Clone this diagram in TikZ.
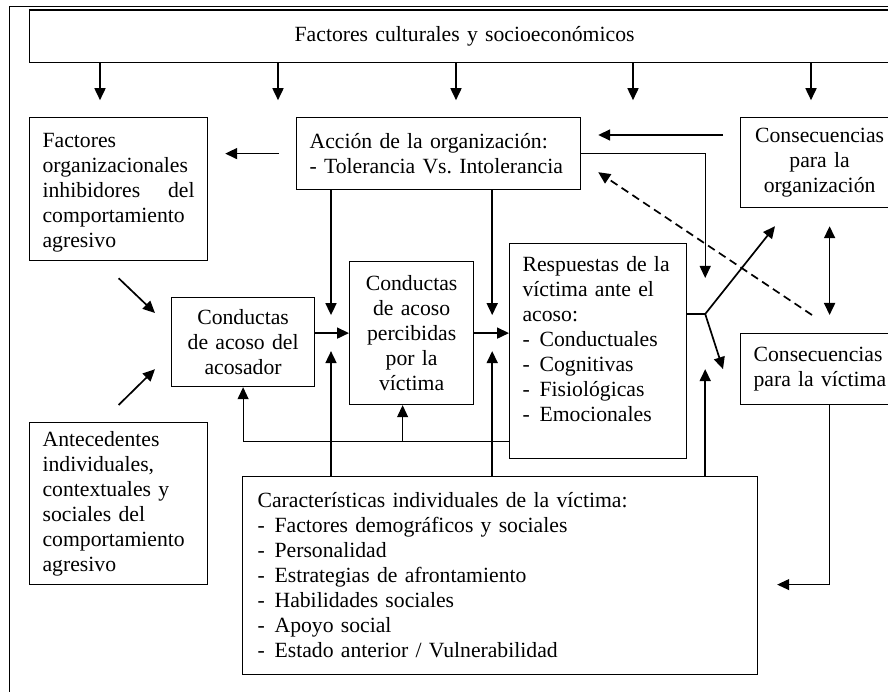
\documentclass[tikz,border=0pt]{standalone}
\usepackage{fontspec}
\setmainfont{Liberation Serif}
\usetikzlibrary{arrows.meta,calc}
\newcommand{\guion}[1]{\makebox[17pt][l]{-}#1}
\hyphenpenalty=10000
\frenchspacing
\begin{document}
\begin{tikzpicture}[x=1pt,y=-1pt,
        box/.style={draw, line width=1.2pt, inner xsep=13pt, inner ysep=0pt, anchor=north west, font=\fontsize{21.7}{25}\selectfont},
        arr/.style={line width=1.7pt, -{Triangle[length=12pt,width=11pt]}},
        thinarr/.style={line width=1.1pt, -{Triangle[length=12pt,width=11pt]}}]
        \useasboundingbox (0,0) rectangle (888,692);
        \clip (0,0) rectangle (888,692);
        \draw[line width=0.8pt, double distance=0.9pt] (10,7) rectangle (920,720);
        \node[box, text width=844, minimum height=52.5, align=center] (cult) at (29,9.5) {Factores culturales y socioecon\'omicos};
        \node[box, text width=152, minimum height=143, align=left] (orgfac) at (29,117) {\rule{0pt}{22pt}Factores\\ organizacionales\\ inhibidores\hfill del\\ comportamiento\\ agresivo};
        \node[box, text width=258, minimum height=72, align=left] (accion) at (296,117) {Acci\'on de la organizaci\'on:\\ - Tolerancia Vs. Intolerancia};
        \node[box, inner xsep=8pt, text width=142, minimum height=90, align=center] (consorg) at (740,117) {Consecuencias\\ para la\\ organizaci\'on};
        \node[box, inner xsep=8pt, text width=127, minimum height=89, align=center] (acosador) at (171,297) {Conductas\\ de acoso del\\ acosador};
        \node[box, inner xsep=7pt, text width=110, minimum height=143, align=center] (percib) at (349,261) {Conductas\\ de acoso\\ percibidas\\ por la\\ v\'ictima};
        \node[box, text width=151, minimum height=215, align=left] (resp) at (509,243) {Respuestas de la\\ v\'ictima ante el\\ acoso:\\ \guion{Conductuales}\\ \guion{Cognitivas}\\ \guion{Fisiol\'ogicas}\\ \guion{Emocionales}\\ \mbox{}};
        \node[box, text width=132, minimum height=71, align=left] (consvic) at (740,333) {Consecuencias\\ para~la~v\'ictima};
        \node[box, text width=152, minimum height=162, align=left] (antec) at (29,422) {Antecedentes\\ individuales,\\ contextuales y\\ sociales del\\ comportamiento\\ agresivo};
        \node[box, inner xsep=15pt, text width=485, minimum height=198, align=left] (caract) at (242,476) {Caracter\'isticas individuales de la v\'ictima:\\ \guion{Factores demogr\'aficos y sociales}\\ \guion{Personalidad}\\ \guion{Estrategias de afrontamiento}\\ \guion{Habilidades sociales}\\ \guion{Apoyo social}\\ \guion{Estado anterior / Vulnerabilidad}};
        \foreach \x in {100,278,456,633,811}{
            \draw[arr] (cult.south -| \x,0) -- ++(0,37);
        }
        \coordinate (pinl) at ($(percib.west)+(-18,-18)$);
        \coordinate (pinr) at ($(percib.east)+(18,-18)$);
        \coordinate (pupl) at ($(percib.west)+(-18,18)$);
        \coordinate (pupr) at ($(percib.east)+(18,18)$);
        \coordinate (fb) at ($(resp.south west)+(0,-18)$);
        \coordinate (pb) at ($(percib.south)+(-9,0)$);
        \coordinate (split) at ($(resp.north east)+(18,71)$);
        \draw[arr] ([xshift=-17pt]accion.west) -- ([xshift=17pt]accion.west -| orgfac.east);
        \draw[arr] ($(consorg.north west)+(-17,18)$) -- ($(accion.north east)+(17,18)$);
        \draw[thinarr] (accion.east) -| ($(resp.north east)+(18,35)$);
        \draw[arr, dash pattern=on 8pt off 5pt] ($(consvic.north west)+(72,-18)$) -- ($(accion.south east)+(17,-18)$);
        \draw[arr, {Triangle[length=12pt,width=11pt]}-{Triangle[length=12pt,width=11pt]}] ($(consorg.south)+(10,18)$) -- ($(consvic.north)+(10,-18)$);
        \draw[arr] ($(orgfac.south)+(0,17)$) -- ($(acosador.north west)+(-16,16)$);
        \draw[arr] ($(antec.north)+(0,-17)$) -- ($(acosador.south west)+(-16,-18)$);
        \draw[arr] (acosador.east |- percib.west) -- (percib.west);
        \draw[arr] (accion.south -| pinl) -- (pinl);
        \draw[arr] (accion.south -| pinr) -- (pinr);
        \draw[arr] (caract.north -| pupl) -- (pupl);
        \draw[arr] (caract.north -| pupr) -- (pupr);
        \draw[arr] (percib.east) -- (percib.east -| resp.west);
        \draw[thinarr] (fb) -| (acosador.south);
        \draw[thinarr] (fb -| pb) -- (pb);
        \draw[line width=1.1pt] (resp.north east |- split) -- (split);
        \draw[arr] (split) -- ($(consorg.south west)+(35,18)$);
        \draw[arr] (split) -- ($(consvic.west)+(-17,0)$);
        \draw[arr] (caract.north -| split) -- (split |- consvic.west);
        \draw[thinarr] ($(consvic.south)+(10,0)$) |- ($(caract.east)+(19,9)$);
\end{tikzpicture}
\end{document}
